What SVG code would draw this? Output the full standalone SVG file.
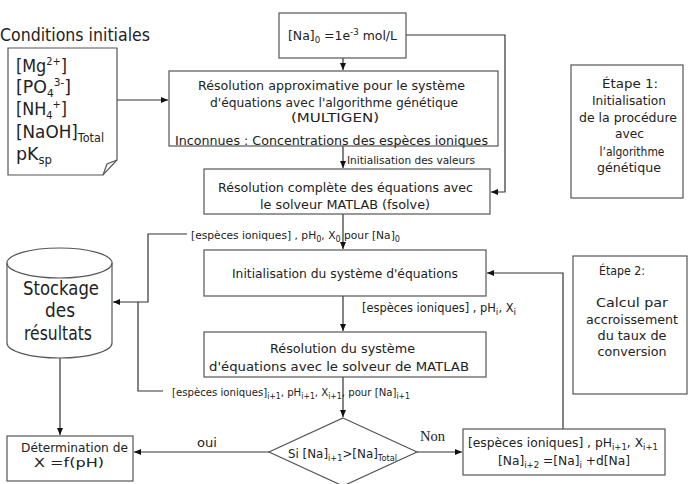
<svg xmlns="http://www.w3.org/2000/svg" width="692" height="484" viewBox="0 0 692 484">
<style>
text{font-family:"DejaVu Sans","Liberation Sans",sans-serif;fill:#222}
.box{fill:#fff;stroke:#555;stroke-width:1.2}
.ln{fill:none;stroke:#333;stroke-width:1.2}
.m{text-anchor:middle}
.s13{font-size:13px}
.s10{font-size:10.5px}
.sub{font-size:8px}
.sub2{font-size:9.5px}
</style>
<defs>
<marker id="ah" markerWidth="8" markerHeight="8" refX="7" refY="4" orient="auto" markerUnits="userSpaceOnUse">
<path d="M0,1 L7,4 L0,7 Z" fill="#111"/>
</marker>
</defs>
<rect width="692" height="484" fill="#fff"/>

<g id="connectors">
<path class="ln" d="M117,100 H168" marker-end="url(#ah)"/>
<path class="ln" d="M343,58 V70" marker-end="url(#ah)"/>
<path class="ln" d="M406,35 H505 V192 H491" marker-end="url(#ah)"/>
<path class="ln" d="M343,146 V168" marker-end="url(#ah)"/>
<path class="ln" d="M343,214 V249" marker-end="url(#ah)"/>
<path class="ln" d="M343,296 V331" marker-end="url(#ah)"/>
<path class="ln" d="M343,377 V417" marker-end="url(#ah)"/>
<path class="ln" d="M187,234 H148 V302 H113" marker-end="url(#ah)"/>
<path class="ln" d="M163,391 H138 V302"/>
<path class="ln" d="M417,452 H462" marker-end="url(#ah)"/>
<path class="ln" d="M269,452 H134" marker-end="url(#ah)"/>
<path class="ln" d="M563,429 V273 H487" marker-end="url(#ah)"/>
<path class="ln" d="M60,358 V435" marker-end="url(#ah)"/>
<text class="s10" x="347" y="164" textLength="128" lengthAdjust="spacingAndGlyphs">Initialisation des valeurs</text>
<text class="s10" x="191" y="239" textLength="209" lengthAdjust="spacingAndGlyphs">[espèces ioniques] , pH<tspan class="sub" dy="3">0</tspan><tspan dy="-3">, X</tspan><tspan class="sub" dy="3">0</tspan><tspan dy="-3"> pour [Na]</tspan><tspan class="sub" dy="3">0</tspan></text>
<text style="font-size:12px" x="362" y="312" textLength="154" lengthAdjust="spacingAndGlyphs">[espèces ioniques] , pH<tspan class="sub2" dy="3">i</tspan><tspan dy="-3">, X</tspan><tspan class="sub2" dy="3">i</tspan></text>
<text class="s10" x="172" y="396" textLength="238" lengthAdjust="spacingAndGlyphs">[espèces ioniques]<tspan class="sub" dy="3">i+1</tspan><tspan dy="-3">, pH</tspan><tspan class="sub" dy="3">i+1</tspan><tspan dy="-3">, X</tspan><tspan class="sub" dy="3">i+1</tspan><tspan dy="-3">, pour [Na]</tspan><tspan class="sub" dy="3">i+1</tspan></text>
<text style="font-family:'Liberation Serif',serif;font-size:14px" x="420" y="441" textLength="25" lengthAdjust="spacingAndGlyphs">Non</text>
<text style="font-size:12px" x="197" y="447" textLength="20" lengthAdjust="spacingAndGlyphs">oui</text>
</g>

<g id="title">
<text style="font-size:17px" x="0" y="41" textLength="150" lengthAdjust="spacingAndGlyphs">Conditions initiales</text>
</g>

<g id="conditions">
<path class="box" d="M8,48 H117 V160 L103,175 H8 Z"/>
<path class="ln" d="M103,175 L107,164 L117,160" style="stroke:#555"/>
<g style="font-size:18px">
<text x="16" y="72" textLength="51" lengthAdjust="spacingAndGlyphs">[Mg<tspan style="font-size:11px" dy="-7">2+</tspan><tspan dy="7">]</tspan></text>
<text x="16" y="93" textLength="55" lengthAdjust="spacingAndGlyphs">[PO<tspan style="font-size:11px" dy="4">4</tspan><tspan style="font-size:11px" dy="-11">3-</tspan><tspan dy="7">]</tspan></text>
<text x="16" y="115" textLength="51" lengthAdjust="spacingAndGlyphs">[NH<tspan style="font-size:11px" dy="4">4</tspan><tspan style="font-size:11px" dy="-11">+</tspan><tspan dy="7">]</tspan></text>
<text x="16" y="138" textLength="88" lengthAdjust="spacingAndGlyphs">[NaOH]<tspan style="font-size:12px" dy="4">Total</tspan></text>
<text x="16" y="160" textLength="36" lengthAdjust="spacingAndGlyphs">pK<tspan style="font-size:12px" dy="4">sp</tspan></text>
</g>
</g>

<g id="na0">
<rect class="box" x="279" y="13" width="127" height="45"/>
<text class="s13" x="288" y="40" textLength="109" lengthAdjust="spacingAndGlyphs">[Na]<tspan style="font-size:9px" dy="3">0</tspan><tspan dy="-3"> =1e</tspan><tspan style="font-size:9px" dy="-5">-3</tspan><tspan dy="5"> mol/L</tspan></text>
</g>

<g id="approx">
<rect class="box" x="169" y="71" width="329" height="75"/>
<text class="s13" x="198" y="90" textLength="267" lengthAdjust="spacingAndGlyphs">Résolution approximative pour le  système</text>
<text class="s13" x="210" y="107" textLength="248" lengthAdjust="spacingAndGlyphs">d'équations avec l'algorithme génétique</text>
<text class="s13" x="291" y="122" textLength="88" lengthAdjust="spacingAndGlyphs">(MULTIGEN)</text>
<text class="s13" x="175" y="145" textLength="313" lengthAdjust="spacingAndGlyphs">Inconnues : Concentrations des espèces ioniques</text>
</g>

<g id="complete">
<rect class="box" x="204" y="169" width="286" height="45"/>
<text class="s13" x="218" y="192" textLength="255" lengthAdjust="spacingAndGlyphs">Résolution complète des équations avec</text>
<text class="s13" x="260" y="209" textLength="170" lengthAdjust="spacingAndGlyphs">le solveur MATLAB (fsolve)</text>
</g>

<g id="etape1">
<rect class="box" x="571" y="65" width="112" height="133"/>
<g style="font-size:12.5px" class="m">
<text x="630" y="88" textLength="56" lengthAdjust="spacingAndGlyphs">Étape 1:</text>
<text x="629" y="105" textLength="74" lengthAdjust="spacingAndGlyphs">Initialisation</text>
<text x="628" y="122" textLength="98" lengthAdjust="spacingAndGlyphs">de la procédure</text>
<text x="629.5" y="138" textLength="29" lengthAdjust="spacingAndGlyphs">avec</text>
<text x="632" y="156" textLength="65" lengthAdjust="spacingAndGlyphs">l’algorithme</text>
<text x="629" y="172" textLength="64" lengthAdjust="spacingAndGlyphs">génétique</text>
</g>
</g>

<g id="stockage">
<path class="box" d="M7,263 V343 A52.5,15 0 0 0 112,343 V263"/>
<ellipse class="box" cx="59.5" cy="263" rx="52.5" ry="15"/>
<g style="font-size:19px" class="m">
<text x="61" y="295" textLength="76" lengthAdjust="spacingAndGlyphs">Stockage</text>
<text x="60" y="317" textLength="30" lengthAdjust="spacingAndGlyphs">des</text>
<text x="58" y="340" textLength="68" lengthAdjust="spacingAndGlyphs">résultats</text>
</g>
</g>

<g id="init">
<rect class="box" x="204" y="250" width="282" height="46"/>
<text class="s13" x="232" y="278" textLength="226" lengthAdjust="spacingAndGlyphs">Initialisation du système d'équations</text>
</g>

<g id="etape2">
<rect class="box" x="573" y="256" width="114" height="138"/>
<g style="font-size:12.5px" class="m">
<text x="622" y="275" textLength="46" lengthAdjust="spacingAndGlyphs">Étape 2:</text>
<text x="632" y="307" textLength="72" lengthAdjust="spacingAndGlyphs">Calcul par</text>
<text x="632" y="324" textLength="92" lengthAdjust="spacingAndGlyphs">accroissement</text>
<text x="632" y="340" textLength="69" lengthAdjust="spacingAndGlyphs">du taux de</text>
<text x="632" y="356" textLength="69" lengthAdjust="spacingAndGlyphs">conversion</text>
</g>
</g>

<g id="resolution">
<rect class="box" x="204" y="332" width="282" height="45"/>
<text class="s13" x="270" y="353" textLength="145" lengthAdjust="spacingAndGlyphs">Résolution du système</text>
<text class="s13" x="209" y="371" textLength="260" lengthAdjust="spacingAndGlyphs">d'équations avec le solveur de MATLAB</text>
</g>

<g id="decision">
<path class="box" d="M343,418 L417,452 L343,486 L269,452 Z"/>
<text class="s13" x="288" y="458" textLength="109" lengthAdjust="spacingAndGlyphs">Si [Na]<tspan style="font-size:9px" dy="3">i+1</tspan><tspan dy="-3">&gt;[Na]</tspan><tspan style="font-size:9px" dy="3">Total</tspan></text>
</g>

<g id="increment">
<rect class="box" x="463" y="429" width="202" height="46"/>
<text class="s13" x="468" y="447" textLength="190" lengthAdjust="spacingAndGlyphs">[espèces ioniques] , pH<tspan style="font-size:9px" dy="3">i+1</tspan><tspan dy="-3">, X</tspan><tspan style="font-size:9px" dy="3">i+1</tspan></text>
<text class="s13" x="498" y="465" textLength="132" lengthAdjust="spacingAndGlyphs">[Na]<tspan style="font-size:9px" dy="3">i+2</tspan><tspan dy="-3"> =[Na]</tspan><tspan style="font-size:9px" dy="3">i</tspan><tspan dy="-3"> +d[Na]</tspan></text>
</g>

<g id="determination">
<rect class="box" x="7" y="436" width="126" height="45"/>
<text class="s13" x="21" y="452" textLength="107" lengthAdjust="spacingAndGlyphs">Détermination de</text>
<text class="s13" x="34" y="467" textLength="70" lengthAdjust="spacingAndGlyphs">X =f(pH)</text>
</g>
</svg>
